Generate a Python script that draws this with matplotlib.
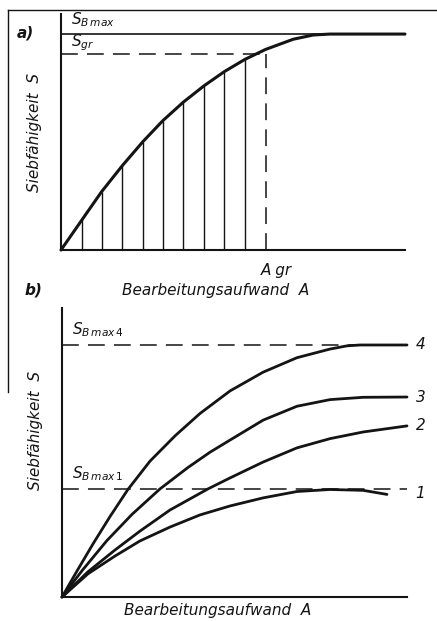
import matplotlib
matplotlib.use("Agg")
import matplotlib.pyplot as plt
from matplotlib.lines import Line2D

# a) Siebfähigkeit über Bearbeitungsaufwand (Skalen 0..10, ohne Einheiten)
a_A = [0, 0.62, 1.18, 1.78, 2.38, 2.96, 3.56, 4.16, 4.75, 5.35, 5.95, 6.75, 7.33, 7.82, 10]
a_S = [0, 1.30, 2.47, 3.57, 4.59, 5.48, 6.27, 6.96, 7.56, 8.08, 8.50, 8.93, 9.11, 9.15, 9.15]
# Schraffur unter der Kurve (bis A gr)
hatch_A = [0.62, 1.18, 1.78, 2.38, 2.96, 3.56, 4.16, 4.75, 5.35]
hatch_S = [1.30, 2.47, 3.57, 4.59, 5.48, 6.27, 6.96, 7.56, 8.08]
S_Bmax = 9.15
S_gr = 8.30
A_gr = 5.95

# b) vier Kurven 1..4
curve4_A = [0, 0.44, 0.90, 1.39, 1.91, 2.55, 3.28, 4.00, 4.87, 5.83, 6.81, 7.77, 8.26, 8.64, 10]
curve4_S = [0, 0.91, 1.84, 2.78, 3.72, 4.70, 5.58, 6.35, 7.13, 7.78, 8.28, 8.58, 8.69, 8.72, 8.72]
curve3_A = [0, 0.58, 1.30, 2.03, 2.84, 3.65, 4.29, 4.87, 5.83, 6.81, 7.77, 8.73, 10]
curve3_S = [0, 0.91, 1.95, 2.86, 3.74, 4.48, 5.01, 5.43, 6.12, 6.60, 6.83, 6.91, 6.92]
curve2_A = [0, 0.75, 1.54, 2.26, 3.13, 4.23, 4.87, 5.83, 6.81, 7.77, 8.73, 10]
curve2_S = [0, 0.87, 1.63, 2.28, 3.01, 3.74, 4.12, 4.67, 5.16, 5.48, 5.71, 5.92]
curve1_A = [0, 0.75, 1.54, 2.26, 3.13, 4.00, 4.87, 5.83, 6.81, 7.77, 8.73, 9.42]
curve1_S = [0, 0.80, 1.42, 1.94, 2.42, 2.84, 3.15, 3.43, 3.65, 3.72, 3.69, 3.55]
curve_names = ["4", "3", "2", "1"]
S_Bmax4 = 8.72
S_Bmax1 = 3.74

W, H = 437, 621
ink = "#141414"
font = dict(family="DejaVu Sans", style="oblique", color=ink)


def px_axes(fig, left, top, right, bottom):
    ax = fig.add_axes([left / W, 1 - bottom / H, (right - left) / W, (bottom - top) / H])
    ax.set_xlim(0, 10)
    ax.set_ylim(0, 10)
    for s in ["top", "right"]:
        ax.spines[s].set_visible(False)
    for s in ["left", "bottom"]:
        ax.spines[s].set_linewidth(1.5)
        ax.spines[s].set_color(ink)
    ax.set_xticks([])
    ax.set_yticks([])
    ax.patch.set_visible(False)
    return ax


fig = plt.figure(figsize=(W / 100, H / 100), dpi=100)
fig.patch.set_facecolor("white")

# Rahmenlinien des Scans
fig.add_artist(Line2D([8 / W, 1], [1 - 10 / H, 1 - 10 / H], color=ink, lw=1.0))
fig.add_artist(Line2D([8 / W, 8 / W], [1 - 10 / H, 1 - 392 / H], color=ink, lw=1.0))

# ---- a) ----
ax = px_axes(fig, 61, 14, 405, 250)
ax.plot(a_A, a_S, color=ink, lw=2.2, clip_on=False, solid_capstyle="round",
        solid_joinstyle="round")
ax.vlines(hatch_A, 0, hatch_S, color=ink, lw=1.0)
ax.axhline(S_Bmax, color=ink, lw=1.2)
ax.plot([0, A_gr], [S_gr, S_gr], color=ink, lw=1.1, dashes=(11, 6))
ax.plot([A_gr, A_gr], [0, S_gr], color=ink, lw=1.1, dashes=(11, 6))
ax.text(0.3, 9.35, r"$S_{B\,max}$", fontsize=11, color=ink, va="bottom")
ax.text(0.3, 8.35, r"$S_{gr}$", fontsize=11, color=ink, va="bottom")
ax.text(A_gr + 0.3, -0.55, "A gr", fontsize=11, ha="center", va="top", **font)
ax.text(-0.55, 5.0, "Siebfähigkeit  S", fontsize=11, rotation=90, ha="right", va="center", **font)
ax.text(4.5, -1.4, "Bearbeitungsaufwand  A", fontsize=11, ha="center", va="top", **font)
fig.text(25 / W, 1 - 33 / H, "a)", fontsize=11, fontweight="bold", ha="center", va="center", **font)
fig.text(33 / W, 1 - 290 / H, "b)", fontsize=11, fontweight="bold", ha="center", va="center", **font)

# ---- b) ----
bx = px_axes(fig, 62, 308, 407, 597)
curves = [(curve4_A, curve4_S), (curve3_A, curve3_S), (curve2_A, curve2_S), (curve1_A, curve1_S)]
for name, (A, S) in zip(curve_names, curves):
    bx.plot(A, S, color=ink, lw=2.0, clip_on=False, solid_capstyle="round",
            solid_joinstyle="round")
    label_y = S[-1] if name != "1" else S_Bmax1 - 0.15
    bx.text(10.25, label_y, name, fontsize=11, ha="left", va="center", **font)
bx.plot([0, 10], [S_Bmax4, S_Bmax4], color=ink, lw=1.1, dashes=(11, 6))
bx.plot([0, 10], [S_Bmax1, S_Bmax1], color=ink, lw=1.1, dashes=(11, 6))
bx.text(0.3, S_Bmax4 + 0.2, r"$S_{B\,max\,4}$", fontsize=11, color=ink, va="bottom")
bx.text(0.3, S_Bmax1 + 0.2, r"$S_{B\,max\,1}$", fontsize=11, color=ink, va="bottom")
bx.text(-0.55, 5.75, "Siebfähigkeit  S", fontsize=11, rotation=90, ha="right", va="center", **font)
bx.text(4.5, -0.2, "Bearbeitungsaufwand  A", fontsize=11, ha="center", va="top", **font)

fig.savefig("out.png", dpi=100, facecolor="white")
